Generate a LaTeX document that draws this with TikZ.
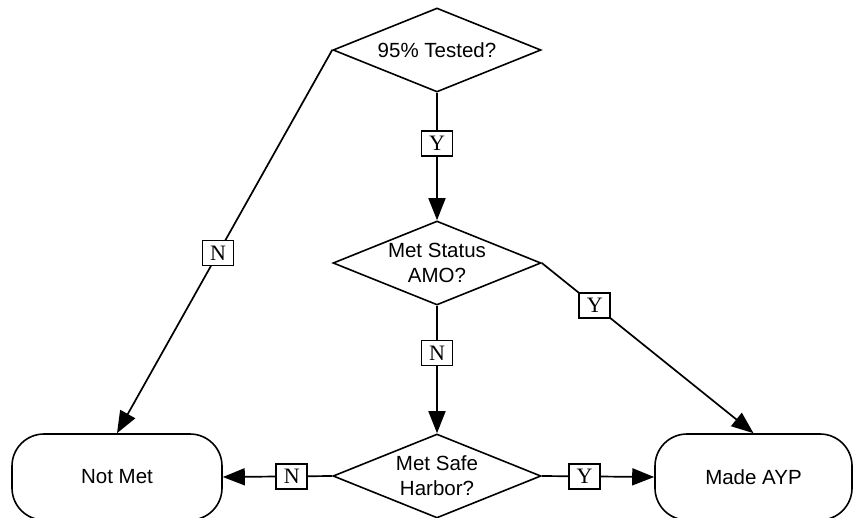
\documentclass[tikz,border=0pt]{standalone}
\usepackage{fontspec}
\setmainfont{Liberation Sans}
\newfontfamily\labfont{Liberation Serif}
\usetikzlibrary{shapes.geometric,arrows.meta}
\tikzset{
  decision/.style={diamond, draw, line width=1.6pt, minimum width=208pt, minimum height=84pt, inner sep=0pt, aspect=2.48, align=center, font=\fontsize{20.5}{25}\selectfont},
  terminal/.style={draw, line width=1.6pt, rounded corners=32pt, minimum height=86pt, inner sep=0pt, font=\fontsize{20.5}{25}\selectfont},
  conn/.style={line width=1.7pt, -{Triangle[length=22pt,width=17pt]}},
  tag/.style={draw, fill=white, line width=1.6pt, minimum width=31pt, minimum height=25pt, inner sep=0pt, font=\labfont\fontsize{22}{24}\selectfont}
}
\begin{document}
\begin{tikzpicture}[x=1pt,y=-1pt]
\useasboundingbox (0,0) rectangle (853,517);
\node[decision] (tested) at (437,50) {95\% Tested?};
\node[decision] (amo) at (437,263) {Met Status\\AMO?};
\node[decision] (safe) at (437,476) {Met Safe\\Harbor?};
\node[terminal, minimum width=210pt] (notmet) at (117,477) {Not Met};
\node[terminal, minimum width=197pt] (made) at (753.5,477) {Made AYP};
\draw[conn] (tested.south) -- node[tag, pos=0.40] {Y} (amo.north);
\draw[conn] (amo.south) -- node[tag, pos=0.37] {N} (safe.north);
\draw[conn] (tested.west) -- node[tag, pos=0.53] {N} (notmet.north);
\draw[conn] (amo.east) -- node[tag, pos=0.25] {Y} (made.north);
\draw[conn] (safe.west) -- node[tag, pos=0.37] {N} (notmet.east);
\draw[conn] (safe.east) -- node[tag, pos=0.38] {Y} (made.west);
\end{tikzpicture}
\end{document}
